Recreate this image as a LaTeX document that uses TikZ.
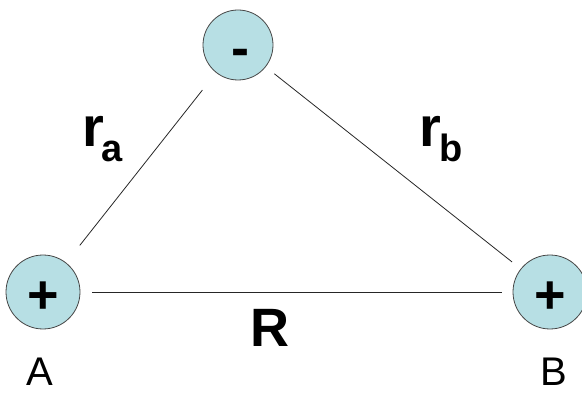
\documentclass[tikz,border=0pt]{standalone}
\usepackage{fontspec}
\setmainfont{Liberation Sans}
\definecolor{ionfill}{RGB}{183,223,228}
\definecolor{ionedge}{RGB}{70,70,70}
\begin{document}
\begin{tikzpicture}[x=1pt,y=-1pt,
  ion/.style={circle,draw=ionedge,line width=0.8pt,fill=ionfill,inner sep=0pt},
  link/.style={draw=black!85,line width=0.8pt},
  sign/.style={inner sep=0pt,anchor=base,font=\fontsize{54}{54}\selectfont\bfseries},
  biglbl/.style={inner sep=0pt,anchor=base west,font=\fontsize{56}{56}\selectfont\bfseries},
  sublbl/.style={inner sep=0pt,anchor=base west,font=\fontsize{38}{38}\selectfont\bfseries},
  ptlbl/.style={inner sep=0pt,anchor=base,font=\fontsize{40}{40}\selectfont}]
\useasboundingbox (0,0) rectangle (582,393);
\node[ion,minimum size=70pt] (T) at (238,45) {};
\node[ion,minimum size=74pt] (L) at (43,292) {};
\node[ion,minimum size=74pt] (Rt) at (550,292) {};
\node[sign] (mT) at (240,67) {-};
\node[sign] (pL) at (43,313) {+};
\node[sign] (pR) at (550,313) {+};
\draw[link,shorten <=22pt,shorten >=22pt] (L) -- (T);
\draw[link,shorten <=11pt,shorten >=11pt] (T) -- (Rt);
\draw[link,shorten <=12pt,shorten >=11pt] (L) -- (Rt);
\node[biglbl] (ra) at (82,147) {r};
\node[sublbl] (ras) at (101,162) {a};
\node[biglbl] (rb) at (419,147) {r};
\node[sublbl] (rbs) at (439,162) {b};
\node[inner sep=0pt,anchor=base,font=\fontsize{54}{54}\selectfont\bfseries] (Rl) at (270,347) {R};
\node[ptlbl] (A) at (40,385) {A};
\node[ptlbl] (B) at (554,385) {B};
\end{tikzpicture}
\end{document}
